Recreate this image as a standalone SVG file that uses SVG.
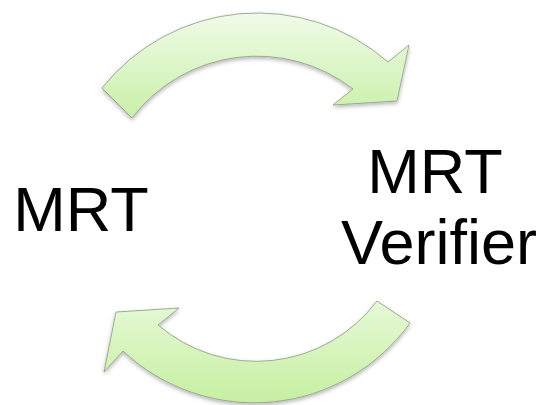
<svg xmlns="http://www.w3.org/2000/svg" width="540" height="405" viewBox="0 0 540 405">
  <style>
    .arrow { stroke: #8a9a80; stroke-width: 0.8; stroke-linejoin: miter; filter: url(#shadow); }
    .label { font-family: "Liberation Sans", Arial, sans-serif; font-size: 63px; fill: #000000; }
  </style>
  <defs>
    <linearGradient id="gTop" x1="0" y1="0" x2="0" y2="1">
      <stop offset="0" stop-color="#f0fbe8"/>
      <stop offset="1" stop-color="#c9f0a8"/>
    </linearGradient>
    <linearGradient id="gBot" x1="0" y1="0" x2="0" y2="1">
      <stop offset="0" stop-color="#e6f9d6"/>
      <stop offset="1" stop-color="#c6efa2"/>
    </linearGradient>
    <filter id="shadow" x="-10%" y="-10%" width="120%" height="130%">
      <feGaussianBlur in="SourceAlpha" stdDeviation="2"/>
      <feOffset dx="0" dy="2" result="b"/>
      <feComponentTransfer><feFuncA type="linear" slope="0.3"/></feComponentTransfer>
      <feMerge><feMergeNode/><feMergeNode in="SourceGraphic"/></feMerge>
    </filter>
  </defs>
  <g id="connectors">
    <path id="arrow-top" class="arrow" fill="url(#gTop)" d="M102,88 A198.5,198.5 0 0 1 388,62 L409,45 L397,101 L333,105 L353,89 A157,157 0 0 0 132,118 Z"/>
    <path id="arrow-bottom" class="arrow" fill="url(#gBot)" d="M410,323 A192,192 0 0 1 123,351 L104,372 L116,312 L179,308 L158,325 A151,151 0 0 0 377,301 Z"/>
  </g>
  <g id="node-mrt">
    <text class="label" x="81" y="231" text-anchor="middle" font-size="64">MRT</text>
  </g>
  <g id="node-verifier">
    <text class="label" x="435" y="193" text-anchor="middle">MRT</text>
    <text class="label" x="439" y="264" text-anchor="middle">Verifier</text>
  </g>
</svg>
